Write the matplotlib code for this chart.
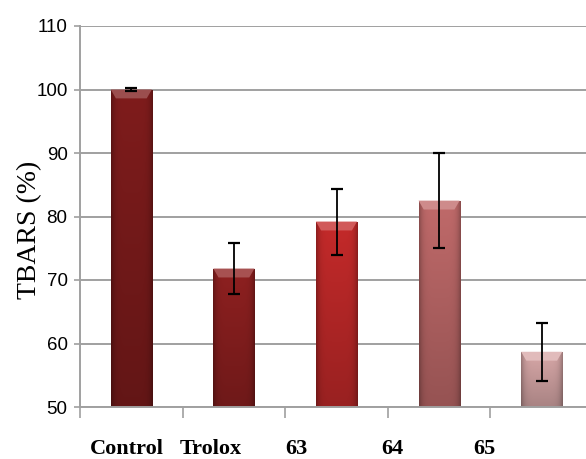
import numpy as np
import matplotlib
matplotlib.use("Agg")
import matplotlib.pyplot as plt
from matplotlib.patches import Polygon

categories = ["Control", "Trolox", "63", "64", "65"]
tbars = [100.0, 71.8, 79.2, 82.5, 58.7]
tbars_err = [0.3, 4.0, 5.2, 7.5, 4.6]
bar_colors = ["#7f1c1c", "#8e2020", "#c42a2a", "#c06a6a", "#d8a8a8"]
y_ticks = [50, 60, 70, 80, 90, 100, 110]

# horizontal shift of each category label relative to its slot centre
label_shift = [-0.04, -0.23, -0.39, -0.46, -0.56]

fig = plt.figure(figsize=(5.86, 4.59), dpi=100)
ax = fig.add_axes([80 / 586, 1 - 407 / 459, 513 / 586, (407 - 26) / 459])
ax.set_ylim(50, 110)

# gridlines
ax.set_yticks(y_ticks)
ax.yaxis.grid(True, color="#a0a0a0", linewidth=1.4)
ax.set_axisbelow(True)

x = np.arange(len(categories))
width = 0.4
base = 50.0


def lighten(c, f):
    c = np.array(matplotlib.colors.to_rgb(c))
    return np.clip(c + (1 - c) * f, 0, 1)


bars = ax.bar(x, np.array(tbars) - base, bottom=base, width=width,
              color=bar_colors, edgecolor="none", zorder=2)

# shaded fill for each bar: darker at the sides and toward the bottom
nx, ny = 60, 120
hx = np.linspace(-1, 1, nx)
side = 1.0 - 0.28 * np.abs(hx) ** 6
vy = np.linspace(0, 1, ny)[:, None]
for b, col in zip(bars, bar_colors):
    rgb = np.array(matplotlib.colors.to_rgb(col))
    fac = side[None, :] * (0.78 + 0.22 * vy)
    img = np.clip(rgb[None, None, :] * fac[:, :, None], 0, 1)
    x0, y0 = b.get_x(), b.get_y()
    w, h = b.get_width(), b.get_height()
    im = ax.imshow(img, extent=[x0, x0 + w, y0, y0 + h], origin="lower",
                   aspect="auto", zorder=2.1, interpolation="bilinear")
    im.set_clip_path(b)
    # bevelled top edge
    bev_y = 1.4
    bev_x = 0.05
    top = y0 + h
    poly = Polygon([[x0, top], [x0 + w, top], [x0 + w - bev_x, top - bev_y],
                    [x0 + bev_x, top - bev_y]], closed=True,
                   facecolor=lighten(col, 0.22), edgecolor="none", zorder=2.2)
    ax.add_patch(poly)

ax.set_xlim(-0.5, len(categories) - 0.5)

ax.errorbar(x, tbars, yerr=tbars_err, fmt="none", ecolor="black",
            elinewidth=1.3, capsize=4, capthick=1.6, zorder=3)

# axes styling
for s in ["top", "right"]:
    ax.spines[s].set_visible(False)
for s in ["left", "bottom"]:
    ax.spines[s].set_color("#a0a0a0")
    ax.spines[s].set_linewidth(1.4)

ax.set_xticks(np.arange(len(categories) + 1) - 0.5)
ax.set_xticklabels([])
ax.tick_params(axis="x", direction="out", length=8, color="#a0a0a0", width=1.2)
ax.tick_params(axis="y", direction="out", length=4, color="#a0a0a0", width=1.2, pad=5)
ax.set_yticklabels([str(v) for v in y_ticks], fontfamily="Liberation Sans", fontsize=13.5)

for i, (name, sh) in enumerate(zip(categories, label_shift)):
    ax.text(i + sh, -0.11, name, transform=ax.get_xaxis_transform(),
            ha="center", va="center", fontsize=16, fontweight="bold",
            fontfamily="Liberation Serif")

fig.text(30 / 586, 1 - 230 / 459, "TBARS (%)", rotation=90, ha="center", va="center",
         fontsize=20, fontfamily="Liberation Serif")

fig.savefig("out.png", dpi=100)
